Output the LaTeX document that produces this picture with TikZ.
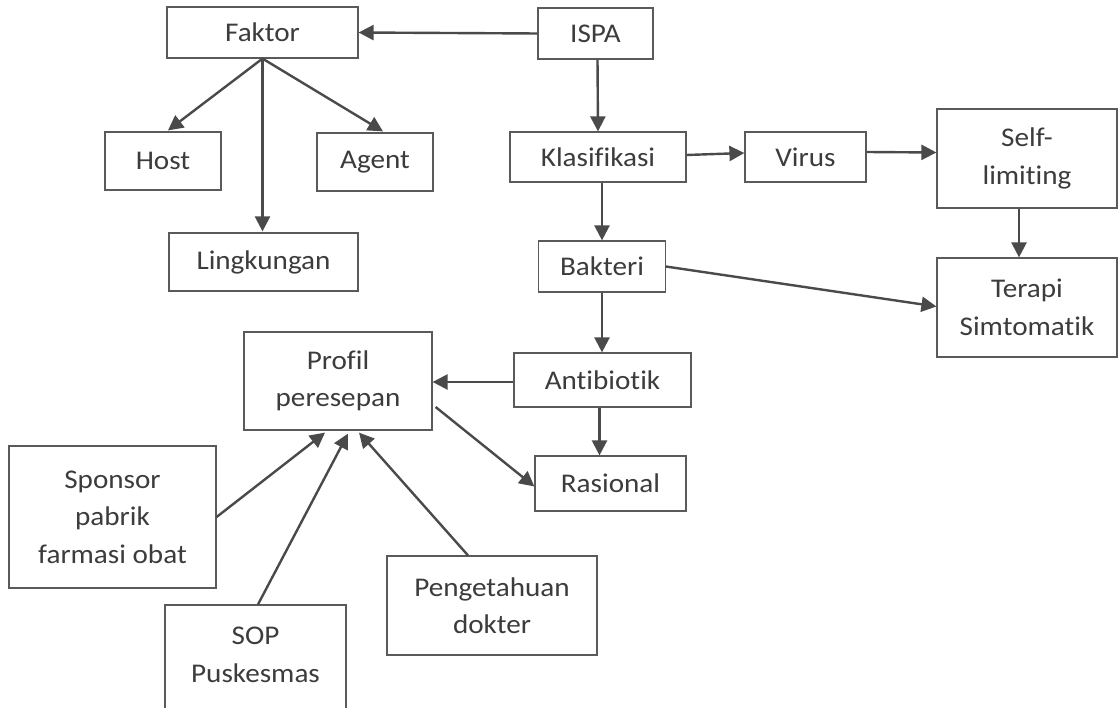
\documentclass[tikz,border=0pt]{standalone}
\usepackage{fontspec}
\setmainfont{Carlito}[FakeStretch=1.08,Ligatures={NoCommon}]
\usetikzlibrary{arrows.meta,calc}
\definecolor{txt}{HTML}{3C3C3C}
\definecolor{edge}{HTML}{4A4A4A}
\definecolor{frame}{HTML}{5A5A5A}
\tikzset{
  box/.style={draw=frame, line width=1.2pt, fill=white, text=txt, inner sep=0pt,
    align=center, font=\fontsize{27}{37.5}\selectfont},
  conn/.style={draw=edge, line width=2.4pt, -{Triangle[length=15pt,width=15pt]}}
}
\begin{document}
\begin{tikzpicture}[x=1pt,y=-1pt]
\useasboundingbox (0,0) rectangle (1118,708);
% nodes: center x, center y, width, height
\node[box, minimum width=191, minimum height=51] (faktor) at (262.5,32.5) {Faktor};
\node[box, minimum width=115, minimum height=51] (ispa) at (595.5,33.5) {ISPA};
\node[box, minimum width=116, minimum height=58] (host) at (163,161) {Host};
\node[box, minimum width=116, minimum height=58] (agent) at (375,162) {Agent};
\node[box, minimum width=189, minimum height=58] (ling) at (263.5,262) {Lingkungan};
\node[box, minimum width=176, minimum height=50] (klas) at (598,157) {Klasifikasi};
\node[box, minimum width=121, minimum height=50] (virus) at (805.5,157) {Virus};
\node[box, minimum width=180, minimum height=99] (self) at (1027,158.5) {Self-\\limiting};
\node[box, minimum width=180, minimum height=99] (terapi) at (1027,307.5) {Terapi\\Simtomatik};
\node[box, minimum width=126.5, minimum height=51] (bakteri) at (602,266.5) {Bakteri};
\node[box, minimum width=177, minimum height=54] (anti) at (602.5,380) {Antibiotik};
\node[box, minimum width=151, minimum height=55] (rasional) at (610.5,483.5) {Rasional};
\node[box, minimum width=188, minimum height=98] (profil) at (338,381) {Profil\\peresepan};
\node[box, minimum width=207, minimum height=142] (sponsor) at (112.5,517) {Sponsor\\pabrik\\farmasi obat};
\node[box, minimum width=210, minimum height=99] (peng) at (492,605.5) {Pengetahuan\\dokter};
\node[box, minimum width=181, minimum height=108] (sop) at (255.5,659) {};
\node[text=txt, align=center, inner sep=0pt, font=\fontsize{27}{37.5}\selectfont] (soptext) at (255.5,655) {SOP\\Puskesmas};
% connectors
\draw[conn] (ispa.west) -- (faktor.east);
\draw[conn] ($(ispa.south)+(2,0)$) -- ($(klas.north)+(0,0)$);
\draw[conn] (faktor.south) -- ($(host.north)+(5,-1)$);
\draw[conn] (faktor.south) -- ($(agent.north)+(8,-1)$);
\draw[conn] (faktor.south) -- ($(faktor.south |- ling.north)+(0,-1)$);
\draw[conn] ($(klas.east)+(0,-2)$) -- ($(virus.west)+(0,-4)$);
\draw[conn] ($(virus.east)+(0,-5)$) -- ($(self.west)+(0,-6)$);
\draw[conn] ($(self.south)+(-8,0)$) -- ($(terapi.north)+(-8,0)$);
\draw[conn] (bakteri.north |- klas.south) -- (bakteri.north);
\draw[conn] (bakteri.east) -- ($(terapi.west)+(0,-1)$);
\draw[conn] (bakteri.south) -- (bakteri.south |- anti.north);
\draw[conn] ($(anti.west)+(0,2)$) -- ($(profil.east)+(0,1)$);
\draw[conn] ($(anti.south)+(-3,0)$) -- ($(anti.south |- rasional.north)+(-3,0)$);
\draw[conn] ($(profil.east)+(3,26)$) -- ($(rasional.west)+(0,3)$);
\draw[conn] (sponsor.east) -- ($(profil.south)+(-13,2)$);
\draw[conn] ($(sop.north)+(2.5,0)$) -- ($(profil.south)+(10,3)$);
\draw[conn] ($(peng.north)+(-24,0)$) -- ($(profil.south)+(21,2)$);
\end{tikzpicture}
\end{document}
